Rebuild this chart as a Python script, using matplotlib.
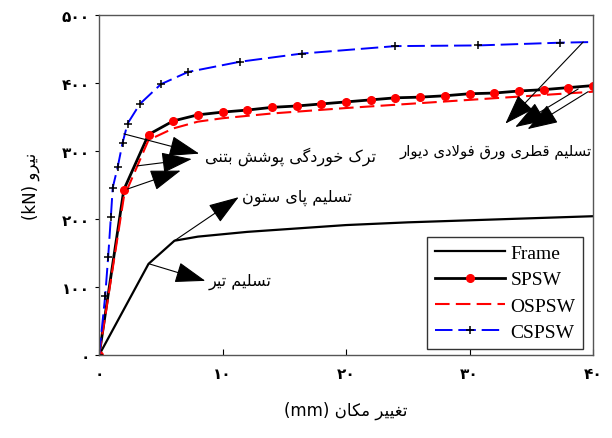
import numpy as np
import matplotlib
matplotlib.use("Agg")
import matplotlib.pyplot as plt

# داده ها
frame_x = [0, 4.0, 6.1, 8, 12, 16, 20, 25, 30, 35, 40]
frame_y = [0, 134, 168, 174, 181, 186, 191, 195, 198, 201, 204]

spsw_x = [0, 2, 4, 6, 8, 10, 12, 14, 16, 18, 20, 22, 24, 26, 28, 30, 32, 34, 36, 38, 40]
spsw_y = [0, 243, 324, 344, 353, 357, 360, 364, 366, 369, 372, 375, 378, 379, 381, 384, 385, 388, 390, 393, 396]

ospsw_x = [0, 2, 4, 6, 8, 10, 14, 20, 30, 40]
ospsw_y = [0, 232, 316, 333, 343, 348, 355, 363, 375, 387]

cspsw_x = [0, 0.49, 0.73, 0.95, 1.1, 1.5, 1.9, 2.3, 3.3, 5.0, 7.2, 11.4, 16.4, 24.0, 30.7, 37.3, 40]
cspsw_y = [0, 87, 144, 203, 246, 276, 312, 340, 369, 398, 416, 431, 443, 454, 455, 459, 460]
cspsw_marks = list(range(len(cspsw_x) - 1))

labels = ["Frame", "SPSW", "OSPSW", "CSPSW"]
x_ticks = [0, 10, 20, 30, 40]
y_ticks = [0, 100, 200, 300, 400, 500]

# شکل دهی حروف فارسی (matplotlib خودش این کار را نمی کند)
FORMS = {
    'ا': ('\uFE8D', '\uFE8E', None, None),
    'ب': ('\uFE8F', '\uFE90', '\uFE91', '\uFE92'),
    'پ': ('\uFB56', '\uFB57', '\uFB58', '\uFB59'),
    'ت': ('\uFE95', '\uFE96', '\uFE97', '\uFE98'),
    'خ': ('\uFEA5', '\uFEA6', '\uFEA7', '\uFEA8'),
    'د': ('\uFEA9', '\uFEAA', None, None),
    'ر': ('\uFEAD', '\uFEAE', None, None),
    'س': ('\uFEB1', '\uFEB2', '\uFEB3', '\uFEB4'),
    'ش': ('\uFEB5', '\uFEB6', '\uFEB7', '\uFEB8'),
    'ط': ('\uFEC1', '\uFEC2', '\uFEC3', '\uFEC4'),
    'غ': ('\uFECD', '\uFECE', '\uFECF', '\uFED0'),
    'ف': ('\uFED1', '\uFED2', '\uFED3', '\uFED4'),
    'ق': ('\uFED5', '\uFED6', '\uFED7', '\uFED8'),
    'ک': ('\uFB8E', '\uFB8F', '\uFB90', '\uFB91'),
    'گ': ('\uFB92', '\uFB93', '\uFB94', '\uFB95'),
    'ل': ('\uFEDD', '\uFEDE', '\uFEDF', '\uFEE0'),
    'م': ('\uFEE1', '\uFEE2', '\uFEE3', '\uFEE4'),
    'ن': ('\uFEE5', '\uFEE6', '\uFEE7', '\uFEE8'),
    'و': ('\uFEED', '\uFEEE', None, None),
    'ی': ('\uFBFC', '\uFBFD', '\uFBFE', '\uFBFF'),
    'لا': ('\uFEFB', '\uFEFC', None, None),
}


def shape_word(w):
    w = w.replace('لا', '\x01')
    chars = ['لا' if c == '\x01' else c for c in w]
    out = []
    for i, c in enumerate(chars):
        f = FORMS.get(c)
        if f is None:
            out.append(c)
            continue
        prev = chars[i - 1] if i > 0 else None
        nxt = chars[i + 1] if i < len(chars) - 1 else None
        p = prev in FORMS and FORMS[prev][2] is not None
        n = nxt in FORMS and f[2] is not None
        if p and n:
            out.append(f[3])
        elif p:
            out.append(f[1])
        elif n:
            out.append(f[2])
        else:
            out.append(f[0])
    return ''.join(out[::-1])


def fa(s):
    words = s.split(' ')
    res = []
    for w in words[::-1]:
        if any(ch in FORMS for ch in w):
            res.append(shape_word(w))
        else:
            res.append(w)
    return ' '.join(res)


def fa_num(v):
    return str(v).translate(str.maketrans('0123456789', '۰۱۲۳۴۵۶۷۸۹'))


fig = plt.figure(figsize=(6.12, 4.39), dpi=100, facecolor='w')
ax = fig.add_axes([0.162, 0.189, 0.807, 0.775])

ax.plot(frame_x, frame_y, color='black', lw=1.6, label=labels[0])
ax.plot(spsw_x, spsw_y, color='black', lw=2.0, marker='o', ms=5.5,
        mfc='red', mec='red', label=labels[1])
ax.plot(ospsw_x, ospsw_y, color='red', lw=1.5, dashes=(7, 3), label=labels[2])
ax.plot(cspsw_x, cspsw_y, color='blue', lw=1.4, dashes=(9, 3), marker='+',
        ms=5.5, mec='black', mew=1.1, markevery=cspsw_marks, label=labels[3])

ax.set_xlim(0, 40)
ax.set_ylim(0, 500)
ax.set_xticks(x_ticks)
ax.set_yticks(y_ticks)
ax.set_xticklabels([fa_num(v) for v in x_ticks], fontsize=11, fontweight='bold')
ax.set_yticklabels([fa_num(v) for v in y_ticks], fontsize=11, fontweight='bold')
ax.tick_params(axis='x', direction='in', length=4, pad=8)
ax.tick_params(axis='y', direction='out', length=3)
for sp in ax.spines.values():
    sp.set_color('#555555')
    sp.set_linewidth(1.0)

ax.set_xlabel(fa('تغییر مکان (mm)'), fontsize=12, labelpad=14)
ax.set_ylabel(fa('نیرو (kN)'), fontsize=12, labelpad=16)

arrow = dict(arrowstyle='-|>,head_length=1.6,head_width=0.55', color='black',
             lw=0.8, mutation_scale=12, shrinkA=0, shrinkB=0)

# ترک خوردگی پوشش بتنی
ax.annotate('', xy=(8.1, 296), xytext=(2.0, 325), arrowprops=arrow)
ax.annotate('', xy=(7.5, 288), xytext=(3.1, 278), arrowprops=arrow)
ax.annotate('', xy=(6.6, 271), xytext=(2.3, 244), arrowprops=arrow)
ax.text(15.5, 293, fa('ترک خوردگی پوشش بتنی'), fontsize=11.5, ha='center', va='center')

# تسلیم پای ستون
ax.annotate('', xy=(11.3, 232), xytext=(6.1, 168), arrowprops=arrow)
ax.text(16.0, 232, fa('تسلیم پای ستون'), fontsize=11.5, ha='center', va='center')

# تسلیم تیر
ax.annotate('', xy=(8.6, 109), xytext=(4.05, 134), arrowprops=arrow)
ax.text(11.4, 109, fa('تسلیم تیر'), fontsize=11.5, ha='center', va='center')

# تسلیم قطری ورق
ax.annotate('', xy=(32.9, 340), xytext=(39.2, 460), arrowprops=arrow)
ax.annotate('', xy=(33.7, 335), xytext=(38.8, 391), arrowprops=arrow)
ax.annotate('', xy=(34.7, 332), xytext=(39.6, 387), arrowprops=arrow)
ax.text(32.1, 300, fa('تسلیم قطری ورق فولادی دیوار'), fontsize=10.7, ha='center', va='center')

leg = ax.legend(loc='lower right', bbox_to_anchor=(0.98, 0.018), borderaxespad=0,
                prop={'family': 'Liberation Serif', 'size': 14}, handlelength=3.6,
                fancybox=False, edgecolor='#333333', framealpha=1,
                labelspacing=0.45, handletextpad=0.3, borderpad=0.4)
leg.get_frame().set_linewidth(1.0)

fig.savefig('out.png', dpi=100)
